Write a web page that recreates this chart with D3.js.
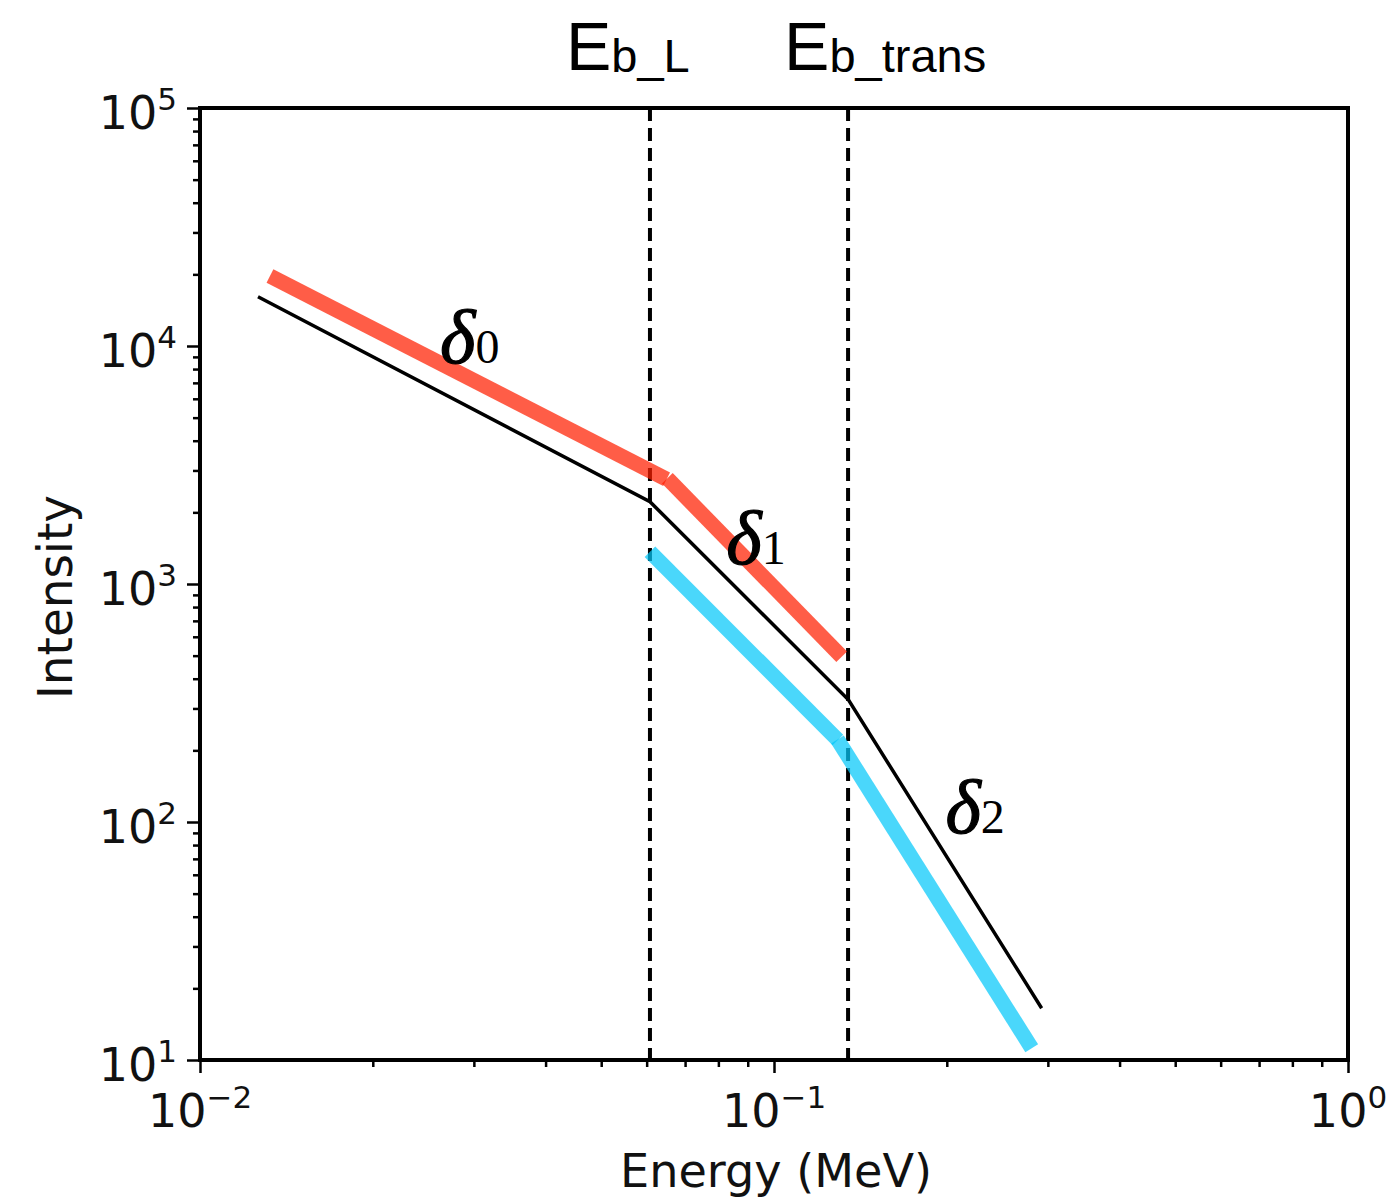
<!DOCTYPE html>
<html>
<head>
<meta charset="utf-8">
<script src="https://cdn.jsdelivr.net/npm/d3@7"></script>
<style>
  html, body { margin: 0; padding: 0; background: #fff; }
  svg { display: block; }
</style>
</head>
<body>
<svg id="chart" width="1388" height="1197"></svg>
<script>
// Broken power-law spectrum: total intensity and two component segments
const breakEnergies = [0.0608, 0.1346];          // MeV
const breakNames = ["b_L", "b_trans"];

const totalEnergy = [0.01262, 0.0608, 0.1348, 0.2926];
const totalIntensity = [16100, 2218, 326, 16.5];

// upper component: two separate segments (δ0, δ1)
const upperSeg1Energy = [0.01324, 0.0650];
const upperSeg1Intensity = [19680, 2754];
const upperSeg2Energy = [0.0652, 0.1312];
const upperSeg2Intensity = [2780, 495];

// lower component: two separate segments
const lowerSeg1Energy = [0.0608, 0.1292];
const lowerSeg1Intensity = [1367, 221];
const lowerSeg2Energy = [0.1290, 0.2812];
const lowerSeg2Intensity = [222, 11.2];

const indexLabels = ["0", "1", "2"];
const indexLabelEnergy = [0.0262, 0.0826, 0.199];
const indexLabelIntensity = [8490, 1214, 90];

const xMajor = [0.01, 0.1, 1];
const xMajorExp = ["\u22122", "\u22121", "0"];
const yMajor = [10, 100, 1000, 10000, 100000];
const yMajorExp = ["1", "2", "3", "4", "5"];

const svg = d3.select("#chart");
const L = 200, R = 1348, T = 108, B = 1060;

const x = d3.scaleLog().domain([0.01, 1]).range([L, R]);
const y = d3.scaleLog().domain([10, 1e5]).range([B, T]);

const minorOf = (lo, hi) => {
  const out = [];
  for (let d = lo; d < hi; d *= 10) for (let k = 2; k <= 9; k++) out.push(d * k);
  return out;
};
const xMinor = minorOf(0.01, 1);
const yMinor = minorOf(10, 1e5);

const sans = "'DejaVu Sans', sans-serif";

// axes ticks (outward)
const gxMinor = svg.append("g").attr("transform", `translate(0,${B})`)
  .call(d3.axisBottom(x).tickValues(xMinor).tickSize(7).tickFormat(""));
const gxMajor = svg.append("g").attr("transform", `translate(0,${B})`)
  .call(d3.axisBottom(x).tickValues(xMajor).tickSize(13).tickFormat(""));
const gyMinor = svg.append("g").attr("transform", `translate(${L},0)`)
  .call(d3.axisLeft(y).tickValues(yMinor).tickSize(7).tickFormat(""));
const gyMajor = svg.append("g").attr("transform", `translate(${L},0)`)
  .call(d3.axisLeft(y).tickValues(yMajor).tickSize(13).tickFormat(""));
[gxMinor, gxMajor, gyMinor, gyMajor].forEach(g => {
  g.select(".domain").remove();
  g.selectAll("line").attr("stroke", "#000").attr("stroke-width", 2.5);
});

// tick labels with superscript exponents
xMajor.forEach((v, i) => {
  const t = svg.append("text")
    .attr("x", x(v)).attr("y", B + 67)
    .attr("text-anchor", "middle")
    .attr("font-family", sans).attr("font-size", 46).attr("fill", "#111");
  t.append("tspan").text("10");
  t.append("tspan").attr("font-size", 31).attr("dy", -19).text(xMajorExp[i]);
});
yMajor.forEach((v, i) => {
  const t = svg.append("text")
    .attr("x", 177).attr("y", y(v) + 21)
    .attr("text-anchor", "end")
    .attr("font-family", sans).attr("font-size", 46).attr("fill", "#111");
  t.append("tspan").text("10");
  t.append("tspan").attr("font-size", 31).attr("dy", -19).text(yMajorExp[i]);
});

// axis titles
svg.append("text")
  .attr("x", 776).attr("y", 1187)
  .attr("text-anchor", "middle")
  .attr("font-family", sans).attr("font-size", 47).attr("fill", "#111")
  .attr("textLength", 312).attr("lengthAdjust", "spacingAndGlyphs")
  .text("Energy (MeV)");
svg.append("text")
  .attr("transform", "translate(72,597) rotate(-90)")
  .attr("text-anchor", "middle")
  .attr("font-family", sans).attr("font-size", 48).attr("fill", "#111")
  .attr("textLength", 204).attr("lengthAdjust", "spacingAndGlyphs")
  .text("Intensity");

// break-energy markers
svg.selectAll("line.break").data(breakEnergies).join("line")
  .attr("class", "break")
  .attr("x1", d => x(d)).attr("x2", d => x(d))
  .attr("y1", T).attr("y2", B)
  .attr("stroke", "#000").attr("stroke-width", 4)
  .attr("stroke-dasharray", "13,7");

breakEnergies.forEach((d, i) => {
  const t = svg.append("text")
    .attr("x", x(d) - 84 + (i === 1 ? 20 : 0)).attr("y", 70)
    .attr("font-family", "'Liberation Sans', Arial, sans-serif")
    .attr("font-size", 68).attr("fill", "#000");
  t.append("tspan").text("E");
  t.append("tspan").attr("font-size", 47).attr("dy", 2).text(breakNames[i]);
});

const line = d3.line().x(d => x(d[0])).y(d => y(d[1]));
const zipPts = (a, b) => a.map((v, i) => [v, b[i]]);

// total spectrum
svg.append("path")
  .attr("d", line(zipPts(totalEnergy, totalIntensity)))
  .attr("fill", "none").attr("stroke", "#000").attr("stroke-width", 3.5);

// component segments
const segs = [
  [upperSeg1Energy, upperSeg1Intensity, "rgb(255,30,0)"],
  [upperSeg2Energy, upperSeg2Intensity, "rgb(255,30,0)"],
  [lowerSeg1Energy, lowerSeg1Intensity, "rgb(4,199,249)"],
  [lowerSeg2Energy, lowerSeg2Intensity, "rgb(4,199,249)"]
];
segs.forEach(([e, v, c]) => {
  svg.append("path")
    .attr("d", line(zipPts(e, v)))
    .attr("fill", "none").attr("stroke", c)
    .attr("stroke-opacity", 0.72)
    .attr("stroke-width", 15).attr("stroke-linecap", "butt");
});

// spectral index labels
indexLabels.forEach((s, i) => {
  const t = svg.append("text")
    .attr("x", x(indexLabelEnergy[i])).attr("y", y(indexLabelIntensity[i]))
    .attr("font-family", "'Liberation Serif', 'Times New Roman', serif")
    .attr("font-size", 76).attr("fill", "#000");
  t.append("tspan").attr("font-style", "italic").attr("stroke", "#000")
    .attr("stroke-width", 1.2).text("\u03b4");
  t.append("tspan").attr("font-size", 48).text(s);
});

// frame
svg.append("rect")
  .attr("x", L).attr("y", T).attr("width", R - L).attr("height", B - T)
  .attr("fill", "none").attr("stroke", "#000").attr("stroke-width", 4);
</script>
</body>
</html>
